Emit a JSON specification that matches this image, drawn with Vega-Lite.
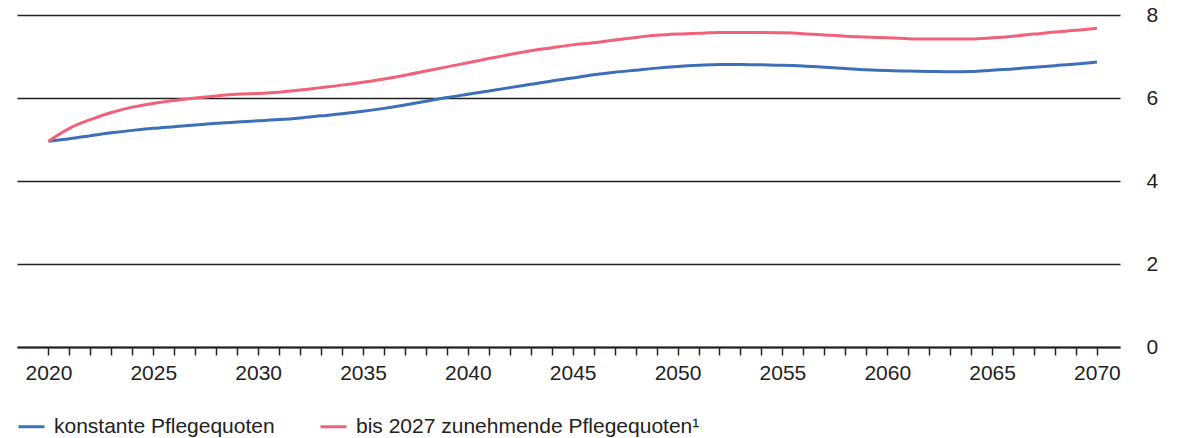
{
  "$schema": "https://vega.github.io/schema/vega-lite/v6.json",
  "width": 1103,
  "height": 332,
  "autosize": {"type": "none"},
  "padding": {"left": 17, "top": 15, "right": 64, "bottom": 91},
  "background": "white",
  "config": {"view": {"stroke": null}},
  "datasets": {
    "d": [
      {"year": 2020, "s": "konstante Pflegequoten", "v": 4.96},
      {"year": 2021, "s": "konstante Pflegequoten", "v": 5.02},
      {"year": 2022, "s": "konstante Pflegequoten", "v": 5.09},
      {"year": 2023, "s": "konstante Pflegequoten", "v": 5.16},
      {"year": 2024, "s": "konstante Pflegequoten", "v": 5.22},
      {"year": 2025, "s": "konstante Pflegequoten", "v": 5.27},
      {"year": 2026, "s": "konstante Pflegequoten", "v": 5.31},
      {"year": 2027, "s": "konstante Pflegequoten", "v": 5.35},
      {"year": 2028, "s": "konstante Pflegequoten", "v": 5.39},
      {"year": 2029, "s": "konstante Pflegequoten", "v": 5.42},
      {"year": 2030, "s": "konstante Pflegequoten", "v": 5.45},
      {"year": 2031, "s": "konstante Pflegequoten", "v": 5.48},
      {"year": 2032, "s": "konstante Pflegequoten", "v": 5.52},
      {"year": 2033, "s": "konstante Pflegequoten", "v": 5.57},
      {"year": 2034, "s": "konstante Pflegequoten", "v": 5.62},
      {"year": 2035, "s": "konstante Pflegequoten", "v": 5.68},
      {"year": 2036, "s": "konstante Pflegequoten", "v": 5.75},
      {"year": 2037, "s": "konstante Pflegequoten", "v": 5.83},
      {"year": 2038, "s": "konstante Pflegequoten", "v": 5.92},
      {"year": 2039, "s": "konstante Pflegequoten", "v": 6.01},
      {"year": 2040, "s": "konstante Pflegequoten", "v": 6.09},
      {"year": 2041, "s": "konstante Pflegequoten", "v": 6.17},
      {"year": 2042, "s": "konstante Pflegequoten", "v": 6.25},
      {"year": 2043, "s": "konstante Pflegequoten", "v": 6.33},
      {"year": 2044, "s": "konstante Pflegequoten", "v": 6.41},
      {"year": 2045, "s": "konstante Pflegequoten", "v": 6.48},
      {"year": 2046, "s": "konstante Pflegequoten", "v": 6.56},
      {"year": 2047, "s": "konstante Pflegequoten", "v": 6.62},
      {"year": 2048, "s": "konstante Pflegequoten", "v": 6.67},
      {"year": 2049, "s": "konstante Pflegequoten", "v": 6.72},
      {"year": 2050, "s": "konstante Pflegequoten", "v": 6.76},
      {"year": 2051, "s": "konstante Pflegequoten", "v": 6.79},
      {"year": 2052, "s": "konstante Pflegequoten", "v": 6.81},
      {"year": 2053, "s": "konstante Pflegequoten", "v": 6.81},
      {"year": 2054, "s": "konstante Pflegequoten", "v": 6.80},
      {"year": 2055, "s": "konstante Pflegequoten", "v": 6.79},
      {"year": 2056, "s": "konstante Pflegequoten", "v": 6.77},
      {"year": 2057, "s": "konstante Pflegequoten", "v": 6.74},
      {"year": 2058, "s": "konstante Pflegequoten", "v": 6.71},
      {"year": 2059, "s": "konstante Pflegequoten", "v": 6.68},
      {"year": 2060, "s": "konstante Pflegequoten", "v": 6.66},
      {"year": 2061, "s": "konstante Pflegequoten", "v": 6.65},
      {"year": 2062, "s": "konstante Pflegequoten", "v": 6.64},
      {"year": 2063, "s": "konstante Pflegequoten", "v": 6.63},
      {"year": 2064, "s": "konstante Pflegequoten", "v": 6.64},
      {"year": 2065, "s": "konstante Pflegequoten", "v": 6.67},
      {"year": 2066, "s": "konstante Pflegequoten", "v": 6.70},
      {"year": 2067, "s": "konstante Pflegequoten", "v": 6.74},
      {"year": 2068, "s": "konstante Pflegequoten", "v": 6.78},
      {"year": 2069, "s": "konstante Pflegequoten", "v": 6.82},
      {"year": 2070, "s": "konstante Pflegequoten", "v": 6.87},
      {"year": 2020, "s": "bis 2027 zunehmende Pflegequoten¹", "v": 4.96},
      {"year": 2021, "s": "bis 2027 zunehmende Pflegequoten¹", "v": 5.27},
      {"year": 2022, "s": "bis 2027 zunehmende Pflegequoten¹", "v": 5.48},
      {"year": 2023, "s": "bis 2027 zunehmende Pflegequoten¹", "v": 5.65},
      {"year": 2024, "s": "bis 2027 zunehmende Pflegequoten¹", "v": 5.78},
      {"year": 2025, "s": "bis 2027 zunehmende Pflegequoten¹", "v": 5.87},
      {"year": 2026, "s": "bis 2027 zunehmende Pflegequoten¹", "v": 5.94},
      {"year": 2027, "s": "bis 2027 zunehmende Pflegequoten¹", "v": 6.00},
      {"year": 2028, "s": "bis 2027 zunehmende Pflegequoten¹", "v": 6.05},
      {"year": 2029, "s": "bis 2027 zunehmende Pflegequoten¹", "v": 6.09},
      {"year": 2030, "s": "bis 2027 zunehmende Pflegequoten¹", "v": 6.11},
      {"year": 2031, "s": "bis 2027 zunehmende Pflegequoten¹", "v": 6.14},
      {"year": 2032, "s": "bis 2027 zunehmende Pflegequoten¹", "v": 6.19},
      {"year": 2033, "s": "bis 2027 zunehmende Pflegequoten¹", "v": 6.25},
      {"year": 2034, "s": "bis 2027 zunehmende Pflegequoten¹", "v": 6.31},
      {"year": 2035, "s": "bis 2027 zunehmende Pflegequoten¹", "v": 6.38},
      {"year": 2036, "s": "bis 2027 zunehmende Pflegequoten¹", "v": 6.46},
      {"year": 2037, "s": "bis 2027 zunehmende Pflegequoten¹", "v": 6.55},
      {"year": 2038, "s": "bis 2027 zunehmende Pflegequoten¹", "v": 6.65},
      {"year": 2039, "s": "bis 2027 zunehmende Pflegequoten¹", "v": 6.75},
      {"year": 2040, "s": "bis 2027 zunehmende Pflegequoten¹", "v": 6.85},
      {"year": 2041, "s": "bis 2027 zunehmende Pflegequoten¹", "v": 6.95},
      {"year": 2042, "s": "bis 2027 zunehmende Pflegequoten¹", "v": 7.05},
      {"year": 2043, "s": "bis 2027 zunehmende Pflegequoten¹", "v": 7.14},
      {"year": 2044, "s": "bis 2027 zunehmende Pflegequoten¹", "v": 7.21},
      {"year": 2045, "s": "bis 2027 zunehmende Pflegequoten¹", "v": 7.28},
      {"year": 2046, "s": "bis 2027 zunehmende Pflegequoten¹", "v": 7.33},
      {"year": 2047, "s": "bis 2027 zunehmende Pflegequoten¹", "v": 7.40},
      {"year": 2048, "s": "bis 2027 zunehmende Pflegequoten¹", "v": 7.46},
      {"year": 2049, "s": "bis 2027 zunehmende Pflegequoten¹", "v": 7.51},
      {"year": 2050, "s": "bis 2027 zunehmende Pflegequoten¹", "v": 7.54},
      {"year": 2051, "s": "bis 2027 zunehmende Pflegequoten¹", "v": 7.56},
      {"year": 2052, "s": "bis 2027 zunehmende Pflegequoten¹", "v": 7.58},
      {"year": 2053, "s": "bis 2027 zunehmende Pflegequoten¹", "v": 7.58},
      {"year": 2054, "s": "bis 2027 zunehmende Pflegequoten¹", "v": 7.58},
      {"year": 2055, "s": "bis 2027 zunehmende Pflegequoten¹", "v": 7.57},
      {"year": 2056, "s": "bis 2027 zunehmende Pflegequoten¹", "v": 7.55},
      {"year": 2057, "s": "bis 2027 zunehmende Pflegequoten¹", "v": 7.52},
      {"year": 2058, "s": "bis 2027 zunehmende Pflegequoten¹", "v": 7.49},
      {"year": 2059, "s": "bis 2027 zunehmende Pflegequoten¹", "v": 7.47},
      {"year": 2060, "s": "bis 2027 zunehmende Pflegequoten¹", "v": 7.45},
      {"year": 2061, "s": "bis 2027 zunehmende Pflegequoten¹", "v": 7.43},
      {"year": 2062, "s": "bis 2027 zunehmende Pflegequoten¹", "v": 7.42},
      {"year": 2063, "s": "bis 2027 zunehmende Pflegequoten¹", "v": 7.42},
      {"year": 2064, "s": "bis 2027 zunehmende Pflegequoten¹", "v": 7.42},
      {"year": 2065, "s": "bis 2027 zunehmende Pflegequoten¹", "v": 7.45},
      {"year": 2066, "s": "bis 2027 zunehmende Pflegequoten¹", "v": 7.49},
      {"year": 2067, "s": "bis 2027 zunehmende Pflegequoten¹", "v": 7.54},
      {"year": 2068, "s": "bis 2027 zunehmende Pflegequoten¹", "v": 7.59},
      {"year": 2069, "s": "bis 2027 zunehmende Pflegequoten¹", "v": 7.63},
      {"year": 2070, "s": "bis 2027 zunehmende Pflegequoten¹", "v": 7.68}
    ]
  },
  "data": {"name": "d"},
  "mark": {"type": "line", "strokeWidth": 3, "interpolate": "monotone"},
  "encoding": {
    "x": {
      "field": "year",
      "type": "quantitative",
      "scale": {"domain": [2018.5, 2071.1], "nice": false, "zero": false},
      "axis": {
        "title": null,
        "values": [2020,2021,2022,2023,2024,2025,2026,2027,2028,2029,2030,2031,2032,2033,2034,2035,2036,2037,2038,2039,2040,2041,2042,2043,2044,2045,2046,2047,2048,2049,2050,2051,2052,2053,2054,2055,2056,2057,2058,2059,2060,2061,2062,2063,2064,2065,2066,2067,2068,2069,2070],
        "labelExpr": "datum.value % 5 === 0 ? '' + datum.value : ''",
        "labelOverlap": false,
        "labelFlush": false,
        "labelFont": "Liberation Sans",
        "labelFontSize": 21,
        "labelColor": "#222222",
        "grid": false,
        "domainColor": "#222222",
        "domainWidth": 2,
        "tickColor": "#222222",
        "tickWidth": 1.5,
        "tickSize": 8,
        "labelPadding": 7
      }
    },
    "y": {
      "field": "v",
      "type": "quantitative",
      "scale": {"domain": [0, 8], "nice": false},
      "axis": {
        "title": null,
        "orient": "right",
        "values": [0, 2, 4, 6, 8],
        "domain": false,
        "ticks": false,
        "grid": true,
        "gridColor": "#222222",
        "gridWidth": 1.5,
        "gridOpacity": 1,
        "labelFont": "Liberation Sans",
        "labelFontSize": 21,
        "labelColor": "#222222",
        "labelPadding": 26
      }
    },
    "color": {
      "field": "s",
      "type": "nominal",
      "scale": {
        "domain": ["konstante Pflegequoten", "bis 2027 zunehmende Pflegequoten¹"],
        "range": ["#3d6fb8", "#f2617a"]
      },
      "legend": {
        "title": null,
        "orient": "none",
        "legendX": 0,
        "legendY": 397,
        "direction": "horizontal",
        "symbolType": "stroke",
        "symbolSize": 676,
        "symbolStrokeWidth": 3,
        "labelFont": "Liberation Sans",
        "labelFontSize": 21,
        "labelColor": "#222222",
        "labelOffset": 8,
        "labelLimit": 500,
        "columnPadding": 39
      }
    }
  }
}
